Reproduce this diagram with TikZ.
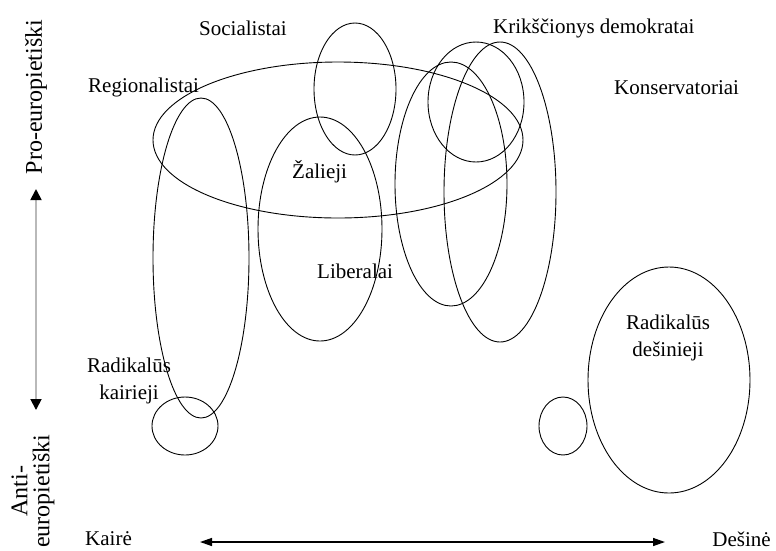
\documentclass[tikz,border=0pt]{standalone}
\usepackage{fontspec}
\setmainfont{Liberation Serif}
\usetikzlibrary{arrows.meta}

\begin{document}
\begin{tikzpicture}[x=1pt,y=-1pt,
		party/.style={font=\fontsize{21}{27}\selectfont, align=center, inner sep=0pt},
		side/.style={font=\fontsize{24}{22}\selectfont, align=center, inner sep=0pt, rotate=90},
		blob/.style={draw, line width=0.9pt},
		biarrow/.style={{Triangle[length=12pt,width=8pt,color=black]}-{Triangle[length=12pt,width=8pt,color=black]}},
		fatarrow/.style={{Triangle[length=11pt,width=11pt,color=black]}-{Triangle[length=11pt,width=11pt,color=black]}}]
		\useasboundingbox (0,0) rectangle (776,550);
		
		\draw[blob] (338,140) ellipse [x radius=185, y radius=78];
		\draw[blob] (201,258) ellipse [x radius=48, y radius=160];
		\draw[blob] (185,426) ellipse [x radius=33, y radius=29];
		\draw[blob] (355,89) ellipse [x radius=41, y radius=66];
		\draw[blob] (320,229) ellipse [x radius=62, y radius=112];
		\draw[blob] (476,102) ellipse [x radius=48, y radius=60];
		\draw[blob] (451,184) ellipse [x radius=56, y radius=122];
		\draw[blob] (500,192) ellipse [x radius=56, y radius=150];
		\draw[blob] (563,426) ellipse [x radius=24, y radius=29];
		\draw[blob] (669,380) ellipse [x radius=81, y radius=113];
		
		\node[party, anchor=base west] (soc) at (199,35) {Socialistai};
		\node[party, anchor=base west] (krd) at (493,33) {Krikščionys demokratai};
		\node[party, anchor=base west] (reg) at (88,92) {Regionalistai};
		\node[party, anchor=base west] (kons) at (614,94) {Konservatoriai};
		\node[party, anchor=base west] (zal) at (292,178) {Žalieji};
		\node[party, anchor=base west] (lib) at (317,278) {Liberalai};
		\node[party] (radk) at (129,381) {Radikalūs\\kairieji};
		\node[party] (radd) at (668,338) {Radikalūs\\dešinieji};
		
		\node[side] (pro) at (36,97) {Pro-europietiški};
		\node[side] (anti) at (33,491) {Anti-\\europietiški};
		\node[party, anchor=base west] (kaire) at (85,545) {Kairė};
		\node[party, anchor=base east] (desine) at (771,546) {Dešinė};
		
		\coordinate (up) at (36,189);
		\coordinate (down) at (36,410);
		\coordinate (left) at (200,542);
		\coordinate (right) at (665,542);
		
		\draw[gray!55, line width=1.8pt, fatarrow] (up) -- (down);
		\draw[line width=1.4pt, biarrow] (left) -- (right);
	\end{tikzpicture}
\end{document}
